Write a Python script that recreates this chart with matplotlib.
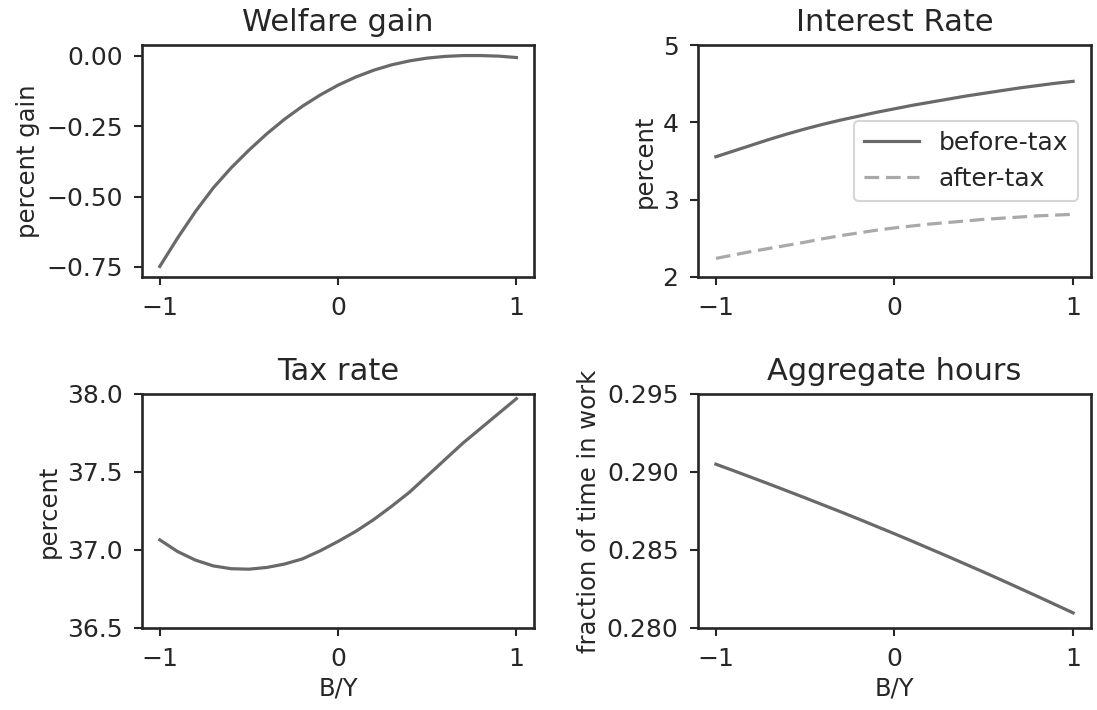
import matplotlib
matplotlib.use("Agg")
import matplotlib.pyplot as plt

by = [-1.0, -0.9, -0.8, -0.7, -0.6, -0.5, -0.4, -0.3, -0.2, -0.1, 0.0,
      0.1, 0.2, 0.3, 0.4, 0.5, 0.6, 0.7, 0.8, 0.9, 1.0]

welfare = [-0.748, -0.647, -0.553, -0.469, -0.398, -0.335, -0.277, -0.225,
           -0.179, -0.139, -0.104, -0.075, -0.051, -0.032, -0.018, -0.008,
           -0.002, 0.001, 0.001, -0.001, -0.006]

r_before = [3.555, 3.63, 3.705, 3.78, 3.85, 3.915, 3.975, 4.03, 4.08, 4.13,
            4.175, 4.22, 4.26, 4.30, 4.34, 4.375, 4.41, 4.445, 4.475, 4.505, 4.53]

r_after = [2.24, 2.285, 2.33, 2.37, 2.41, 2.45, 2.495, 2.535, 2.57, 2.605,
           2.635, 2.66, 2.685, 2.705, 2.725, 2.745, 2.76, 2.775, 2.79, 2.80, 2.81]

tax = [37.065, 36.99, 36.935, 36.898, 36.88, 36.877, 36.888, 36.91, 36.943,
       36.995, 37.055, 37.12, 37.195, 37.28, 37.37, 37.475, 37.58, 37.685,
       37.78, 37.875, 37.97]

hours = [0.29050, 0.29008, 0.28965, 0.28922, 0.28878, 0.28834, 0.28789,
         0.28744, 0.28698, 0.28651, 0.28604, 0.28556, 0.28507, 0.28458,
         0.28408, 0.28358, 0.28307, 0.28255, 0.28203, 0.28150, 0.28097]

plt.rcParams.update({
    "font.family": "DejaVu Sans",
    "axes.linewidth": 1.9,
    "axes.edgecolor": "#262626",
    "xtick.major.size": 6,
    "ytick.major.size": 6,
    "xtick.major.width": 1.5,
    "ytick.major.width": 1.5,
    "xtick.major.pad": 8,
    "ytick.major.pad": 8,
    "xtick.labelsize": 18,
    "ytick.labelsize": 18,
    "xtick.color": "#262626",
    "ytick.color": "#262626",
    "axes.labelsize": 17.5,
    "axes.titlesize": 22,
    "axes.titlepad": 10,
    "text.color": "#262626",
    "axes.labelcolor": "#262626",
})

dark = "dimgray"
light = "darkgray"
lw = 2.3

fig = plt.figure(figsize=(10.97, 7.10), dpi=100)
L1, R1 = 0.1294, 0.487
L2, R2 = 0.6363, 0.9945
B1, T1 = 0.6099, 0.9366
B2, T2 = 0.1155, 0.4451
ax1 = fig.add_axes([L1, B1, R1 - L1, T1 - B1])
ax2 = fig.add_axes([L2, B1, R2 - L2, T1 - B1])
ax3 = fig.add_axes([L1, B2, R1 - L1, T2 - B2])
ax4 = fig.add_axes([L2, B2, R2 - L2, T2 - B2])

ax1.plot(by, welfare, color=dark, lw=lw)
ax1.set_title("Welfare gain")
ax1.set_ylabel("percent gain")
ax1.set_yticks([0.0, -0.25, -0.5, -0.75])
ax1.set_yticklabels(["0.00", "\u22120.25", "\u22120.50", "\u22120.75"])

ax2.plot(by, r_before, color=dark, lw=lw, label="before-tax")
ax2.plot(by, r_after, color=light, lw=lw, ls="--", dashes=(4.6, 2.1),
         label="after-tax")
ax2.set_title("Interest Rate")
ax2.set_ylabel("percent")
ax2.set_ylim(2, 5)
ax2.set_yticks([2, 3, 4, 5])
leg = ax2.legend(loc="center right", fontsize=18, frameon=True,
                 fancybox=True, handlelength=2.2, borderaxespad=0.5)
leg.get_frame().set_edgecolor("#cccccc")
leg.get_frame().set_linewidth(1.5)

ax3.plot(by, tax, color=dark, lw=lw)
ax3.set_title("Tax rate")
ax3.set_ylabel("percent")
ax3.set_xlabel("B/Y")
ax3.set_ylim(36.5, 38.0)
ax3.set_yticks([36.5, 37.0, 37.5, 38.0])

ax4.plot(by, hours, color=dark, lw=lw)
ax4.set_title("Aggregate hours")
ax4.set_ylabel("fraction of time in work")
ax4.set_xlabel("B/Y")
ax4.set_ylim(0.280, 0.295)
ax4.set_yticks([0.280, 0.285, 0.290, 0.295])

for ax in (ax1, ax2, ax3, ax4):
    ax.set_xticks([-1, 0, 1])
    ax.set_xlim(-1.1, 1.1)

fig.savefig("out.png", dpi=100)
